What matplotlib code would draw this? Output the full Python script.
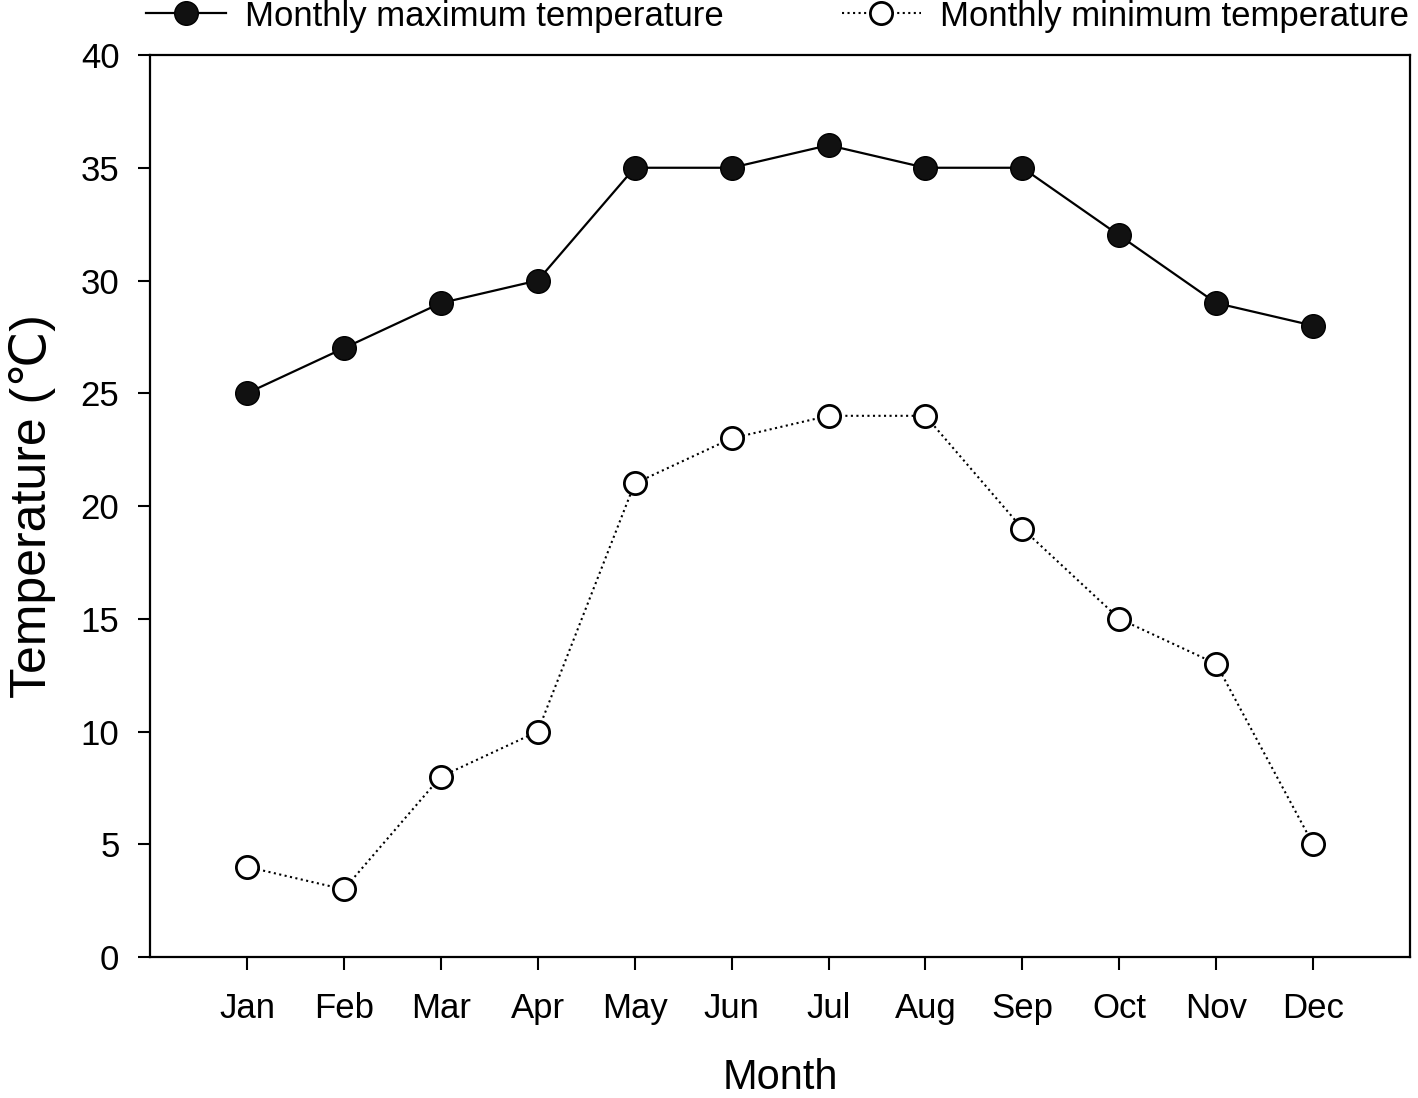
import numpy as np
import matplotlib.pyplot as plt

plt.rcParams['font.family'] = ['Liberation Sans', 'DejaVu Sans']

months = ['Jan', 'Feb', 'Mar', 'Apr', 'May', 'Jun', 'Jul', 'Aug', 'Sep', 'Oct', 'Nov', 'Dec']
t_max = [25, 27, 29, 30, 35, 35, 36, 35, 35, 32, 29, 28]
t_min = [4, 3, 8, 10, 21, 23, 24, 24, 19, 15, 13, 5]

x = np.arange(1, len(months) + 1)

fig = plt.figure(figsize=(14.18, 10.98), dpi=100)
ax = fig.add_axes([0.1058, 0.1284, 0.8886, 0.8215])

ax.plot(x, t_max, '-', color='black', lw=1.6, marker='o', ms=17,
        mfc='#111111', mec='black', label='Monthly maximum temperature')
ax.plot(x, t_min, ':', color='black', lw=1.5, marker='o', ms=16,
        mfc='white', mec='black', mew=2.0, label='Monthly minimum temperature')

ax.set_xlim(0, 13)
ax.set_ylim(0, 40)
ax.set_xticks(x)
ax.set_xticklabels(months)
ax.set_yticks(np.arange(0, 41, 5))
ax.tick_params(axis='both', direction='out', length=9, width=1.5, labelsize=25)
ax.tick_params(axis='x', pad=16)
ax.tick_params(axis='y', pad=13)
for s in ax.spines.values():
    s.set_linewidth(1.6)

ax.set_xlabel('Month', fontsize=30, labelpad=24)
ax.set_ylabel('Temperature (\u2103)', fontsize=36, labelpad=18)

fig.legend(loc='upper left', bbox_to_anchor=(0.093, 1.013), ncol=2, frameon=False,
           fontsize=25, handlelength=2.3, columnspacing=3.4, handletextpad=0.55,
           borderaxespad=0)

plt.savefig('out.png', dpi=100)
